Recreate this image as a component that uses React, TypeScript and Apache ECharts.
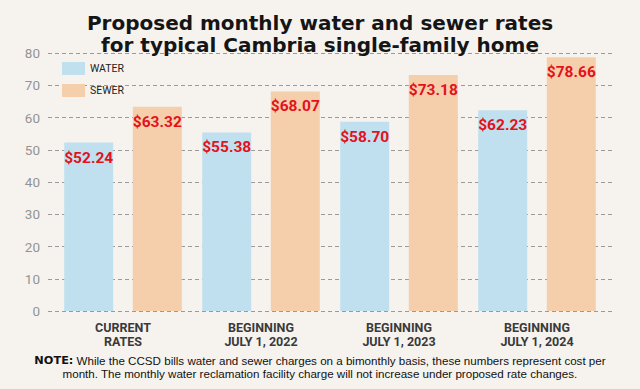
import React, { useEffect, useRef } from "react";
import * as echarts from "echarts";

const categories = ["CURRENT\nRATES", "BEGINNING\nJULY 1, 2022", "BEGINNING\nJULY 1, 2023", "BEGINNING\nJULY 1, 2024"];
const waterValues = [52.24, 55.38, 58.7, 62.23];
const sewerValues = [63.32, 68.07, 73.18, 78.66];
const seriesNames = ["WATER", "SEWER"];
const titleLines = ["Proposed monthly water and sewer rates", "for typical Cambria single-family home"];
const noteLines = [
  "While the CCSD bills water and sewer charges on a bimonthly basis, these numbers represent cost per",
  "month. The monthly water reclamation facility charge will not increase under proposed rate changes.",
];

const NARROW = 'Roboto, "Liberation Sans", sans-serif';
const SANS = '"Liberation Sans", Arial, sans-serif';

export default function App() {
  const ref = useRef<HTMLDivElement>(null);
  useEffect(() => {
    if (!ref.current) return;
    const chart = echarts.init(ref.current, undefined, { renderer: "svg" });
    const labelCfg = {
      show: true,
      position: "insideTop",
      distance: 7,
      color: "#e3121b",
      fontFamily: NARROW,
      fontWeight: "bold",
      fontSize: 15.5,
      formatter: (p: any) => "$" + Number(p.value).toFixed(2),
    };
    chart.setOption({
      animation: false,
      backgroundColor: "#f6f3ef",
      title: {
        text: titleLines.join("\n"),
        left: "center",
        top: 7,
        textStyle: {
          fontFamily: '"DejaVu Sans", sans-serif',
          fontWeight: "bold",
          fontSize: 20,
          lineHeight: 22,
          color: "#151515",
        },
      },
      legend: {
        orient: "vertical",
        left: 57,
        top: 57,
        itemWidth: 23,
        itemHeight: 13,
        itemGap: 9,
        icon: "rect",
        data: seriesNames,
        textStyle: { fontFamily: NARROW, fontSize: 10.5, color: "#222" },
      },
      grid: [
        { left: 54, right: 34, top: 53, bottom: 78 },
        { left: 48, right: 25, top: 53, bottom: 78 },
      ],
      xAxis: [
        {
          type: "category",
          gridIndex: 0,
          data: categories,
          axisLine: { show: false },
          axisTick: { show: false },
          axisLabel: {
            margin: 9,
            fontFamily: NARROW,
            fontWeight: "bold",
            fontSize: 12.5,
            lineHeight: 14,
            color: "#3a3a3a",
          },
        },
        { type: "category", gridIndex: 1, data: categories, show: false },
      ],
      yAxis: [
        {
          type: "value",
          gridIndex: 0,
          min: 0,
          max: 80,
          interval: 10,
          show: false,
          splitLine: { show: false },
        },
        {
          type: "value",
          gridIndex: 1,
          min: 0,
          max: 80,
          interval: 10,
          axisLine: { show: false },
          axisTick: { show: false },
          axisLabel: { margin: 8, fontFamily: NARROW, fontSize: 13.5, color: "#939393" },
          splitLine: { show: true, lineStyle: { color: "#9a9a9a", type: [4, 3], width: 1 } },
        },
      ],
      series: [
        {
          name: seriesNames[0],
          type: "bar",
          xAxisIndex: 0,
          yAxisIndex: 0,
          data: waterValues,
          barWidth: 49,
          barGap: "40%",
          itemStyle: { color: "#c0e0f0" },
          label: labelCfg,
        },
        {
          name: seriesNames[1],
          type: "bar",
          xAxisIndex: 0,
          yAxisIndex: 0,
          data: sewerValues,
          barWidth: 49,
          barGap: "40%",
          itemStyle: { color: "#f5cfac" },
          label: labelCfg,
        },
      ],
      graphic: [
        {
          type: "text",
          left: "center",
          top: 354,
          style: {
            text: "{b|NOTE:} " + noteLines[0],
            fontFamily: SANS,
            fontSize: 11.6,
            lineHeight: 12,
            fill: "#111",
            rich: {
              b: { fontFamily: '"DejaVu Sans", sans-serif', fontWeight: "bold", fontSize: 11.3, lineHeight: 12, fill: "#111" },
            },
          },
        },
        {
          type: "text",
          left: "center",
          top: 367,
          style: {
            text: noteLines[1],
            fontFamily: SANS,
            fontSize: 11.6,
            lineHeight: 12,
            fill: "#111",
          },
        },
      ],
    });
    return () => chart.dispose();
  }, []);
  return <div ref={ref} style={{ width: 640, height: 389, position: "absolute", left: 0, top: 0 }} />;
}
